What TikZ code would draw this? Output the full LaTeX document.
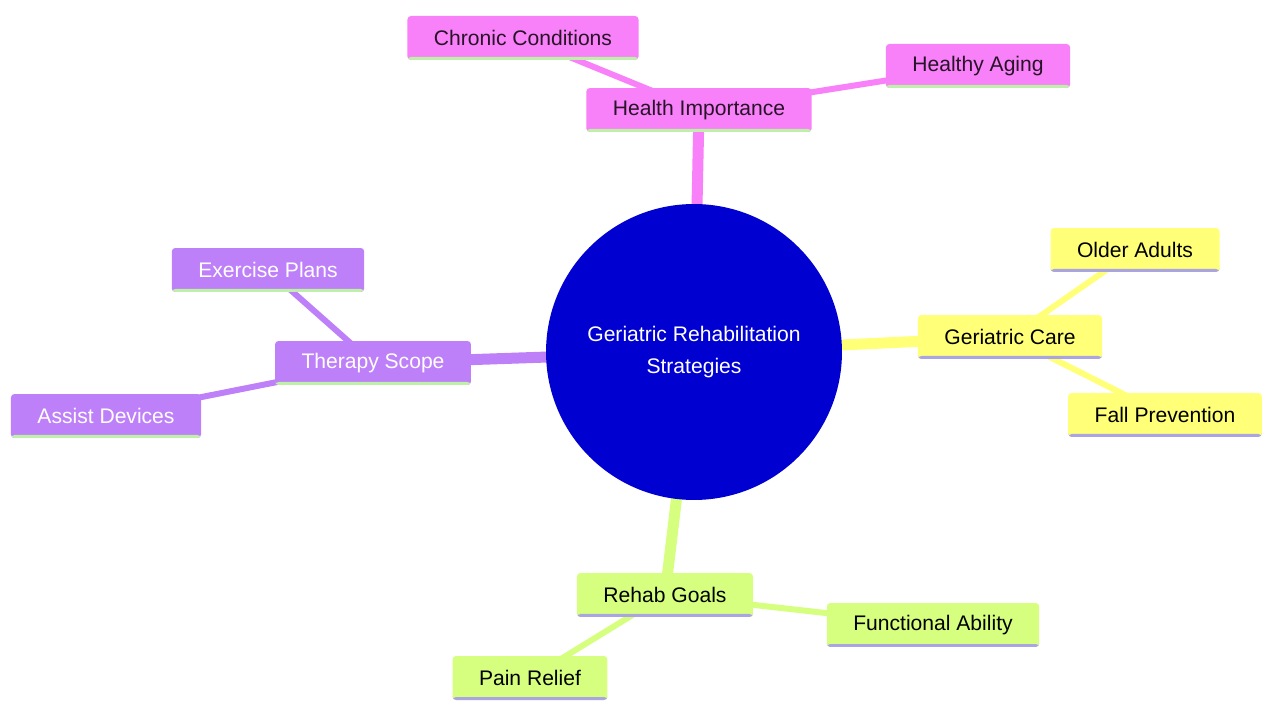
\documentclass[tikz,border=0pt]{standalone}
\usepackage{fontspec}
\setmainfont{Liberation Sans}
\usetikzlibrary{backgrounds}

\definecolor{rootblue}{RGB}{0,0,208}
\definecolor{mmpink}{RGB}{248,128,248}
\definecolor{mmyellow}{RGB}{255,255,120}
\definecolor{mmpurple}{RGB}{190,128,248}
\definecolor{mmgreen}{RGB}{214,255,128}
\definecolor{lineLime}{RGB}{190,240,170}
\definecolor{lineLav}{RGB}{170,165,225}
\definecolor{darkText}{RGB}{40,20,40}

\tikzset{
  box/.style 2 args={rounded corners=2pt, fill=#1, minimum height=0.88cm,
    inner xsep=0.53cm, inner ysep=0pt, font=\fontsize{12}{14}\selectfont,
    path picture={\fill[#2] ([yshift=0cm]path picture bounding box.south west)
      rectangle ([yshift=0.06cm]path picture bounding box.south east);}},
  pinkbox/.style={box={mmpink}{lineLime}, text=darkText},
  yellowbox/.style={box={mmyellow}{lineLav}, text=black},
  purplebox/.style={box={mmpurple}{lineLime}, text=white},
  greenbox/.style={box={mmgreen}{lineLav}, text=black},
  mainedge/.style={line width=0.22cm},
  subedge/.style={line width=0.12cm}
}

\begin{document}
\begin{tikzpicture}[x=0.02cm,y=-0.02cm]

\useasboundingbox (0,0) rectangle (1264,702);

\node [circle,fill=rootblue,minimum size=5.92cm,text=white,align=center,
  font=\fontsize{12}{18}\selectfont] (root) at (694,352)
  {Geriatric Rehabilitation\\Strategies};

% top branch
\node [pinkbox] (health) at (699,110) {Health Importance};
\node [pinkbox] (chronic) at (523,38) {Chronic Conditions};
\node [pinkbox] (aging) at (978,66) {Healthy Aging};

% right branch
\node [yellowbox] (care) at (1010,337) {Geriatric Care};
\node [yellowbox] (older) at (1135,250) {Older Adults};
\node [yellowbox] (fall) at (1165,415) {Fall Prevention};

% left branch
\node [purplebox] (therapy) at (373,363) {Therapy Scope};
\node [purplebox] (exercise) at (268,270) {Exercise Plans};
\node [purplebox] (assist) at (106,416) {Assist Devices};

% bottom branch
\node [greenbox] (goals) at (665,595) {Rehab Goals};
\node [greenbox] (ability) at (933,625) {Functional Ability};
\node [greenbox] (pain) at (530,678) {Pain Relief};

\begin{scope}[on background layer]
\draw [mmpink,mainedge] (root.center) -- (health.center);
\draw [mmpink,subedge] (health.center) -- (chronic.center);
\draw [mmpink,subedge] (health.center) -- (aging.center);

\draw [mmyellow,mainedge] (root.center) -- (care.center);
\draw [mmyellow,subedge] (care.center) -- (older.center);
\draw [mmyellow,subedge] (care.center) -- (fall.center);

\draw [mmpurple,mainedge] (root.center) -- (therapy.center);
\draw [mmpurple,subedge] (therapy.center) -- (exercise.center);
\draw [mmpurple,subedge] (therapy.center) -- (assist.center);

\draw [mmgreen,mainedge] (root.center) -- (goals.center);
\draw [mmgreen,subedge] (goals.center) -- (ability.center);
\draw [mmgreen,subedge] (goals.center) -- (pain.center);
\end{scope}

\end{tikzpicture}
\end{document}
